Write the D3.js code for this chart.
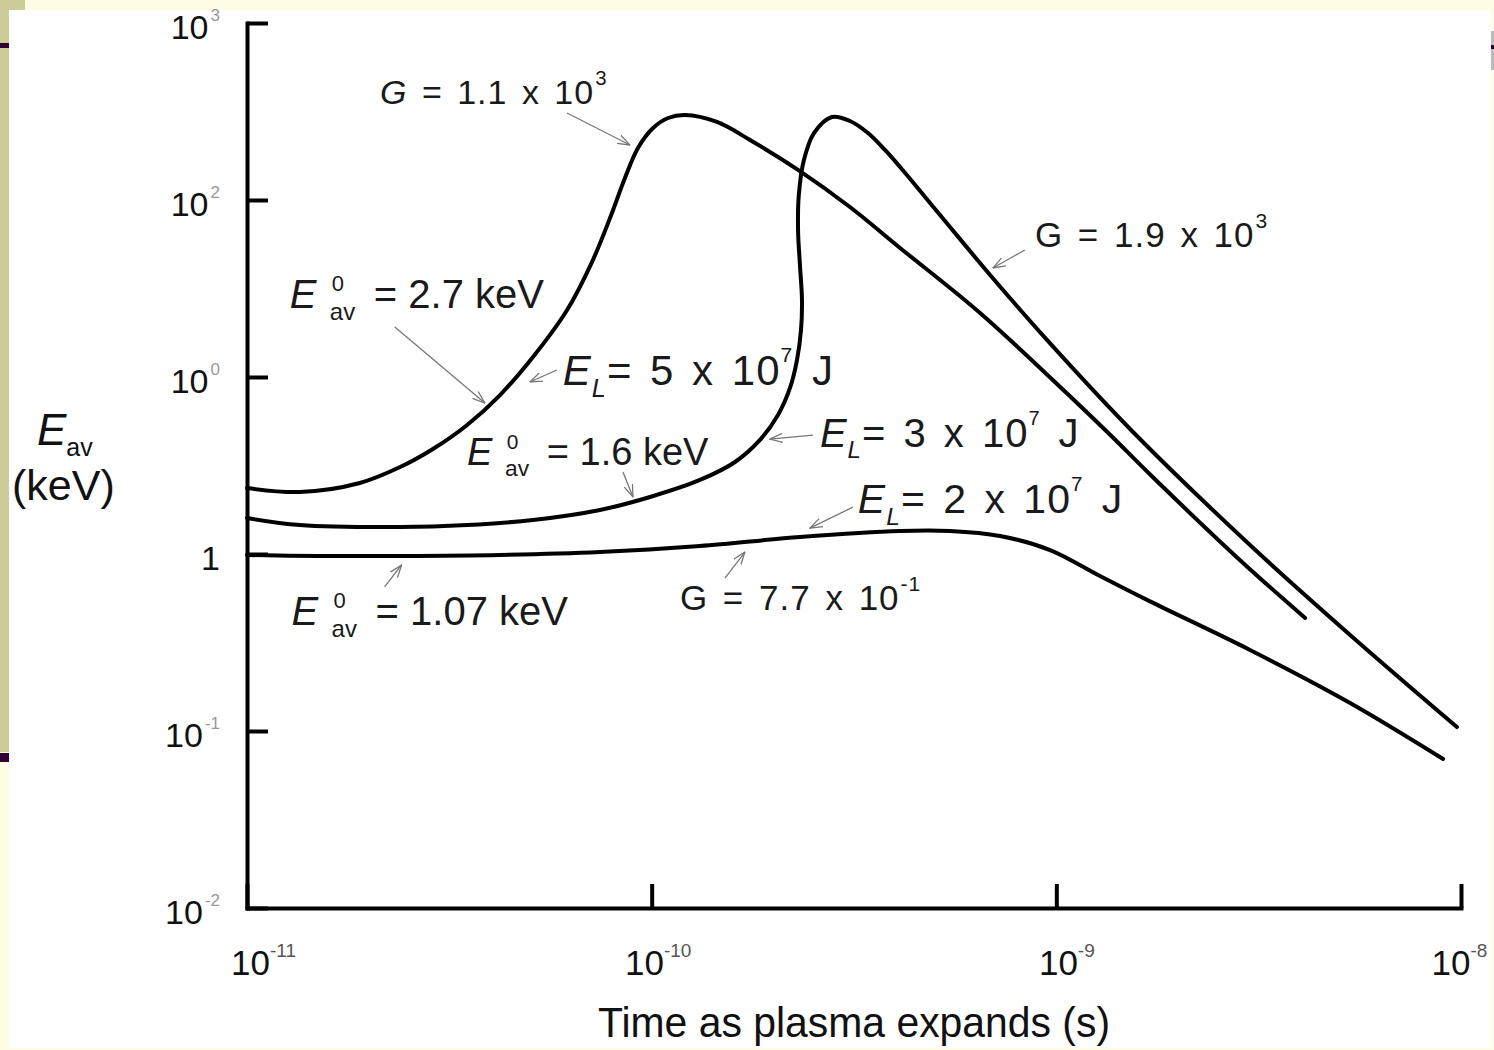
<!DOCTYPE html>
<html>
<head>
<meta charset="utf-8">
<script src="https://cdn.jsdelivr.net/npm/d3@7"></script>
<style>
html, body { margin: 0; padding: 0; background: #fffde1; }
svg { display: block; font-family: "Liberation Sans", Arial, Helvetica, sans-serif; }
</style>
</head>
<body>
<div id="chart"></div>
<script>
var w = 1494;
var h = 1050;

// curve E_L = 5 x 10^7 J  (E0 = 2.7 keV, G = 1.1 x 10^3)
var timeA = [1.0e-11, 1.35e-11, 1.9e-11, 2.39e-11, 2.88e-11, 3.5e-11, 4.22e-11, 5.09e-11, 6.18e-11,
  7.12e-11, 7.89e-11, 8.59e-11, 9.25e-11, 1.008e-10, 1.098e-10, 1.209e-10, 1.45e-10, 1.75e-10,
  2.3e-10, 3.09e-10, 4.11e-10, 6.48e-10, 1.06e-9, 1.36e-9, 1.7e-9, 2.84e-9, 4.12e-9];
var energyA = [2.36, 2.24, 2.52, 3.10, 3.92, 5.36, 7.91, 12.97, 23.9,
  44.6, 79.1, 133.1, 196.7, 255.2, 290.6, 302, 275.9, 218.3,
  148, 91.3, 53.6, 23.0, 8.12, 4.70, 2.83, 0.925, 0.435];

// curve E_L = 3 x 10^7 J  (E0 = 1.6 keV, G = 1.9 x 10^3)
var timeB = [1.0e-11, 1.35e-11, 2.39e-11, 3.5e-11, 5.09e-11, 7.45e-11, 9.91e-11, 1.316e-10,
  1.607e-10, 1.852e-10, 2.052e-10, 2.197e-10, 2.286e-10, 2.339e-10, 2.352e-10, 2.325e-10,
  2.30e-10, 2.31e-10, 2.378e-10, 2.518e-10, 2.79e-10, 3.09e-10, 3.424e-10, 3.772e-10,
  4.11e-10, 5.16e-10, 6.86e-10, 9.48e-10, 1.547e-9, 3.01e-9, 5.32e-9, 9.77e-9];
var energyB = [1.597, 1.458, 1.42, 1.458, 1.556, 1.773, 2.10, 2.62,
  3.31, 4.41, 6.10, 8.67, 12.47, 18.43, 27.2, 42.9,
  67.7, 106.7, 168.3, 239, 294.4, 279.5, 239, 191.7,
  153.6, 82.3, 37.7, 16.2, 4.89, 1.124, 0.349, 0.1053];

// curve E_L = 2 x 10^7 J  (E0 = 1.07 keV, G = 7.7 x 10^-1)
var timeC = [1.0e-11, 1.49e-11, 2.39e-11, 4.22e-11, 7.45e-11, 1.316e-10, 2.325e-10, 4.11e-10,
  5.46e-10, 7.26e-10, 9.65e-10, 1.282e-9, 1.704e-9, 3.01e-9, 5.32e-9, 9.03e-9];
var energyC = [0.987, 0.974, 0.974, 0.987, 1.026, 1.11, 1.247, 1.349,
  1.349, 1.264, 1.053, 0.751, 0.54, 0.287, 0.144, 0.0695];

var xTicks = [1e-11, 1e-10, 1e-9, 1e-8];
var xTickExp = ["-11", "-10", "-9", "-8"];
var xTickShift = [16, 6, 10, -2];
var yTicks = [1e-2, 1e-1, 1, 10, 100, 1000];
var yTickBase = ["10", "10", "1", "10", "10", "10"];
var yTickExp = ["-2", "-1", "", "0", "2", "3"];

// annotation arrows point at data positions; text sits at pixel offsets from the tip
var notes = [
  {kind: "G", mant: "1.1", exp: "3", size: 34, italic: true, tip: [8.84e-11, 204.5], tail: [-63, -32], text: [-250, -41]},
  {kind: "G", mant: "1.9", exp: "3", size: 35, tip: [6.97e-10, 41.3], tail: [32, -18], text: [42, -21]},
  {kind: "E0", val: "2.7", size: 40, tip: [3.87e-11, 7.13], tail: [-90, -76], text: [-195, -95]},
  {kind: "EL", val: "5", size: 42, tip: [5.0e-11, 9.37], tail: [27, -12], text: [33, 3]},
  {kind: "E0", val: "1.6", size: 38, tip: [8.99e-11, 2.10], tail: [-10, -25], text: [-166, -32]},
  {kind: "EL", val: "3", size: 40, tip: [1.96e-10, 4.46], tail: [43, -4], text: [50, 8]},
  {kind: "EL", val: "2", size: 41, tip: [2.46e-10, 1.40], tail: [43, -21], text: [48, -15]},
  {kind: "E0", val: "1.07", size: 40, tip: [2.41e-11, 0.867], tail: [-17, 22], text: [-110, 60]},
  {kind: "G", mant: "7.7", exp: "-1", size: 35, tip: [1.70e-10, 1.026], tail: [-20, 26], text: [-65, 58]}
];

var svg = d3.select("#chart")
  .append("svg")
  .attr("width", w)
  .attr("height", h);

// slide frame
svg.append("rect").attr("width", w).attr("height", h).attr("fill", "#fffde1");
svg.append("rect").attr("x", 0).attr("y", 0).attr("width", 9).attr("height", 752).attr("fill", "#cccc99");
svg.append("rect").attr("x", 0).attr("y", 0).attr("width", 25).attr("height", 10).attr("fill", "#cccc99");
svg.append("rect").attr("x", 0).attr("y", 43).attr("width", 9).attr("height", 5).attr("fill", "#330033");
svg.append("rect").attr("x", 0).attr("y", 753).attr("width", 9).attr("height", 9).attr("fill", "#330033");
svg.append("rect").attr("x", 9).attr("y", 10).attr("width", 1482).attr("height", 1038).attr("fill", "#ffffff");
svg.append("rect").attr("x", 1491).attr("y", 31).attr("width", 3).attr("height", 39).attr("fill", "#bbbbbb");
svg.append("rect").attr("x", 1491).attr("y", 45).attr("width", 3).attr("height", 4).attr("fill", "#330033");

var x = d3.scaleLog().domain([1e-11, 1e-8]).range([247, 1461]);
var y = d3.scaleLog().domain([1e-2, 1e3]).range([908, 23]);

var defs = svg.append("defs");
defs.append("marker")
  .attr("id", "arrow")
  .attr("viewBox", "0 0 13 10")
  .attr("refX", 12.5)
  .attr("refY", 5)
  .attr("markerWidth", 13)
  .attr("markerHeight", 10)
  .attr("markerUnits", "userSpaceOnUse")
  .attr("orient", "auto")
  .append("path")
  .attr("d", "M0,0.5 L12.5,5 L0,9.5")
  .attr("fill", "none")
  .attr("stroke", "#777")
  .attr("stroke-width", 1.3);

// axes
var gY = svg.append("g")
  .attr("transform", "translate(247,0)")
  .call(d3.axisLeft(y).tickValues(yTicks).tickSize(-21).tickSizeOuter(0).tickPadding(27).tickFormat(""));

var gX = svg.append("g")
  .attr("transform", "translate(0,908)")
  .call(d3.axisBottom(x).tickValues(xTicks).tickSize(-24).tickSizeOuter(0).tickFormat(""));

[gY, gX].forEach(function(g) {
  g.select(".domain").attr("stroke", "#000").attr("stroke-width", 4).attr("stroke-linecap", "square");
  g.selectAll(".tick line").attr("stroke", "#000").attr("stroke-width", 4);
});

gY.selectAll(".tick text")
  .attr("x", -27)
  .attr("dy", null)
  .attr("y", 15)
  .attr("font-size", 34)
  .attr("fill", "#111")
  .attr("text-anchor", "end")
  .each(function(d, i) {
    var t = d3.select(this);
    t.append("tspan").text(yTickBase[i]);
    if (yTickExp[i]) {
      t.append("tspan").attr("dx", 2).attr("dy", -18).attr("font-size", 17).attr("fill", "#999").text(yTickExp[i]);
    }
  });

gX.selectAll(".tick text")
  .attr("x", function(d, i) { return xTickShift[i]; })
  .attr("dy", null)
  .attr("y", 67)
  .attr("font-size", 35)
  .attr("fill", "#111")
  .attr("text-anchor", "middle")
  .each(function(d, i) {
    var t = d3.select(this);
    t.append("tspan").text("10");
    t.append("tspan").attr("dy", -18).attr("font-size", 19).attr("fill", "#555").text(xTickExp[i]);
  });

// curves
var line = d3.line()
  .x(function(d) { return x(d[0]); })
  .y(function(d) { return y(d[1]); })
  .curve(d3.curveCatmullRom.alpha(0.5));

var curves = [
  d3.zip(timeA, energyA),
  d3.zip(timeB, energyB),
  d3.zip(timeC, energyC)
];

svg.append("g").selectAll("path")
  .data(curves)
  .enter()
  .append("path")
  .attr("d", line)
  .attr("fill", "none")
  .attr("stroke", "#000")
  .attr("stroke-width", 4)
  .attr("stroke-linecap", "round")
  .attr("stroke-linejoin", "round");

// axis titles
var yTitle = svg.append("text").attr("x", 37).attr("y", 445).attr("font-size", 44).attr("fill", "#111");
yTitle.append("tspan").attr("font-style", "italic").text("E");
yTitle.append("tspan").attr("dy", 11).attr("font-size", 25).text("av");
svg.append("text").attr("x", 12).attr("y", 500).attr("font-size", 43).attr("fill", "#111").text("(keV)");

svg.append("text")
  .attr("x", 598)
  .attr("y", 1037)
  .attr("font-size", 42)
  .attr("fill", "#111")
  .attr("textLength", 512)
  .attr("lengthAdjust", "spacingAndGlyphs")
  .text("Time as plasma expands (s)");

// annotations
var noteG = svg.append("g");

notes.forEach(function(n) {
  var tx = x(n.tip[0]);
  var ty = y(n.tip[1]);

  noteG.append("line")
    .attr("x1", tx + n.tail[0])
    .attr("y1", ty + n.tail[1])
    .attr("x2", tx)
    .attr("y2", ty)
    .attr("stroke", "#777")
    .attr("stroke-width", 1.3)
    .attr("marker-end", "url(#arrow)");

  var px = tx + n.text[0];
  var py = ty + n.text[1];
  var s = n.size;
  var t = noteG.append("text")
    .attr("x", px)
    .attr("y", py)
    .attr("font-size", s)
    .attr("fill", "#1a1a1a")
    .attr("xml:space", "preserve");

  if (n.kind == "G") {
    t.attr("letter-spacing", 1).attr("word-spacing", 4);
    t.append("tspan").attr("font-style", n.italic ? "italic" : null).text("G");
    t.append("tspan").text(" = " + n.mant + " x 10");
    t.append("tspan").attr("dx", 1).attr("dy", -0.55 * s).attr("font-size", 0.6 * s).text(n.exp);
  } else if (n.kind == "EL") {
    t.attr("letter-spacing", 1).attr("word-spacing", 5);
    t.append("tspan").attr("font-style", "italic").text("E");
    t.append("tspan").attr("font-style", "italic").attr("dy", 0.28 * s).attr("font-size", 0.6 * s).text("L");
    t.append("tspan").attr("dy", -0.28 * s).text("= " + n.val + " x 10");
    t.append("tspan").attr("dy", -0.55 * s).attr("font-size", 0.5 * s).text("7");
    t.append("tspan").attr("dy", 0.55 * s).attr("dx", 0.45 * s).text("J");
  } else {
    t.append("tspan").attr("font-style", "italic").text("E");
    t.append("tspan").attr("x", px + 1.05 * s).attr("dy", -0.42 * s).attr("font-size", 0.55 * s).text("0");
    t.append("tspan").attr("x", px + 1.0 * s).attr("dy", 0.72 * s).attr("font-size", 0.6 * s).text("av");
    t.append("tspan").attr("x", px + 2.1 * s).attr("dy", -0.3 * s).text("= " + n.val + " keV");
  }
});
</script>
</body>
</html>
